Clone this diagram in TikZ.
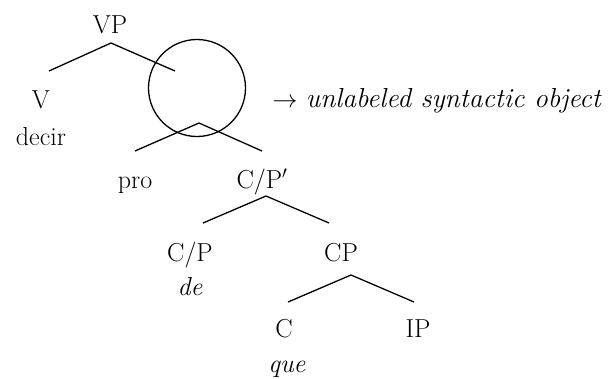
\documentclass[tikz,border=0pt]{standalone}
\usepackage{fontspec}
\begin{document}
\begin{tikzpicture}[x=1pt,y=-1pt,line width=1.3pt,
  every node/.style={font=\fontsize{26}{30}\selectfont,anchor=base,inner sep=0pt}]
\useasboundingbox (0,0) rectangle (615,378);

\node (vp) at (110,33) {VP};
\node (v) at (41,108) {V};
\node (decir) at (41,145) {decir};
\node (pro) at (135,188) {pro};
\node (cpbar) at (262,188) {C/P$'$};
\node (cpl) at (190,261) {C/P};
\node (de) at (190,295) {\textit{de}};
\node (cpr) at (341,261) {CP};
\node (c) at (284,337) {C};
\node (ip) at (418,337) {IP};
\node (que) at (287,372) {\textit{que}};

\node[draw,circle,anchor=center,minimum size=97pt] (so) at (197,88) {};
\node[anchor=base west,font=\fontsize{27.5}{30}\selectfont] (solabel) at (272,107)
  {$\rightarrow$ \textit{unlabeled syntactic object}};

\coordinate (vp-top) at (111,43);
\coordinate (vp-l) at (49,71);
\coordinate (vp-r) at (175,71);
\coordinate (so-top) at (199,123);
\coordinate (so-l) at (135,151);
\coordinate (so-r) at (262,151);
\coordinate (cpbar-top) at (266,196);
\coordinate (cpbar-l) at (203,223);
\coordinate (cpbar-r) at (329,223);
\coordinate (cpr-top) at (351,275);
\coordinate (cpr-l) at (288,302);
\coordinate (cpr-r) at (414,302);

\draw (vp-l) -- (vp-top) -- (vp-r);
\draw (so-l) -- (so-top) -- (so-r);
\draw (cpbar-l) -- (cpbar-top) -- (cpbar-r);
\draw (cpr-l) -- (cpr-top) -- (cpr-r);
\end{tikzpicture}
\end{document}
